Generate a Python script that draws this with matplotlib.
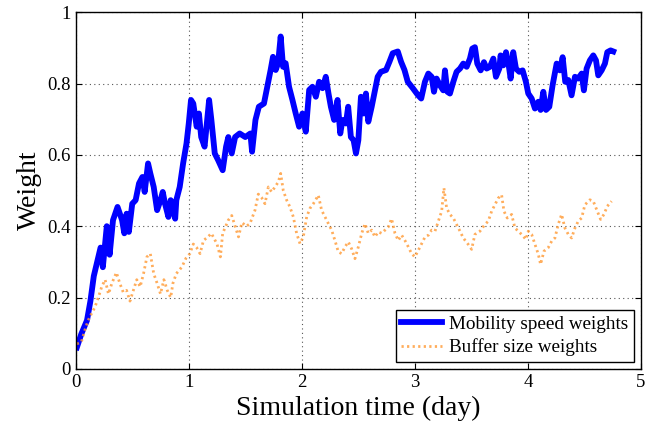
import matplotlib.pyplot as plt
import numpy as np

# Mobility speed weights (day, weight)
speed_t = [0.01, 0.05, 0.10, 0.13, 0.16, 0.19, 0.22, 0.24, 0.26, 0.275, 0.30, 0.33, 0.37, 0.41, 0.43,
           0.45, 0.47, 0.50, 0.53, 0.56, 0.59, 0.61, 0.64, 0.66, 0.69, 0.72, 0.75, 0.77, 0.79, 0.82,
           0.84, 0.88, 0.89, 0.92, 0.95, 0.98, 1.00, 1.02, 1.04, 1.07, 1.09, 1.11, 1.14, 1.16, 1.18,
           1.20, 1.23, 1.26, 1.30, 1.33, 1.35, 1.38, 1.41, 1.45, 1.50, 1.545, 1.56, 1.59, 1.62, 1.665,
           1.695, 1.724, 1.745, 1.769, 1.79, 1.813, 1.834, 1.857, 1.887, 1.917, 1.946, 1.976, 2.005,
           2.035, 2.065, 2.094, 2.124, 2.153, 2.183, 2.212, 2.236, 2.257, 2.286, 2.316, 2.34, 2.36,
           2.39, 2.41, 2.434, 2.458, 2.479, 2.50, 2.523, 2.547, 2.567, 2.588, 2.618, 2.641, 2.671,
           2.70, 2.745, 2.775, 2.804, 2.849, 2.878, 2.908, 2.937, 2.982, 3.026, 3.056, 3.089, 3.119,
           3.148, 3.169, 3.192, 3.222, 3.251, 3.266, 3.287, 3.31, 3.34, 3.369, 3.399, 3.428, 3.458,
           3.487, 3.508, 3.531, 3.552, 3.582, 3.611, 3.635, 3.664, 3.694, 3.717, 3.747, 3.758, 3.782,
           3.806, 3.826, 3.847, 3.87, 3.894, 3.923, 3.953, 3.982, 4.003, 4.033, 4.062, 4.092, 4.112,
           4.136, 4.16, 4.189, 4.218, 4.254, 4.283, 4.307, 4.33, 4.357, 4.386, 4.416, 4.445, 4.475,
           4.495, 4.519, 4.548, 4.578, 4.602, 4.622, 4.652, 4.681, 4.702, 4.731, 4.755]
speed_w = [0.06, 0.098, 0.136, 0.19, 0.26, 0.30, 0.34, 0.285, 0.35, 0.40, 0.32, 0.417, 0.454, 0.417, 0.38,
           0.435, 0.384, 0.463, 0.473, 0.52, 0.538, 0.496, 0.576, 0.548, 0.51, 0.445, 0.473, 0.496, 0.463, 0.426,
           0.473, 0.421, 0.473, 0.51, 0.576, 0.632, 0.688, 0.754, 0.744, 0.679, 0.716, 0.65, 0.623, 0.688, 0.754,
           0.698, 0.604, 0.585, 0.557, 0.623, 0.65, 0.604, 0.65, 0.66, 0.65, 0.66, 0.609, 0.698, 0.735, 0.744,
           0.791, 0.838, 0.875, 0.838, 0.857, 0.932, 0.847, 0.857, 0.791, 0.754, 0.716, 0.679, 0.716,
           0.665, 0.782, 0.791, 0.763, 0.805, 0.787, 0.819, 0.772, 0.735, 0.698, 0.754, 0.66, 0.698,
           0.688, 0.735, 0.65, 0.641, 0.604, 0.641, 0.763, 0.716, 0.772, 0.693, 0.735, 0.772, 0.819,
           0.833, 0.838, 0.861, 0.885, 0.89, 0.861, 0.838, 0.805, 0.787, 0.768, 0.758, 0.805, 0.828,
           0.819, 0.777, 0.814, 0.795, 0.781, 0.837, 0.777, 0.772, 0.805, 0.833, 0.842, 0.856, 0.847,
           0.87, 0.898, 0.902, 0.856, 0.837, 0.86, 0.842, 0.847, 0.87, 0.819, 0.842, 0.879, 0.851,
           0.888, 0.86, 0.814, 0.888, 0.842, 0.833, 0.837, 0.805, 0.772, 0.758, 0.73, 0.749, 0.726,
           0.777, 0.726, 0.735, 0.795, 0.856, 0.837, 0.874, 0.805, 0.81, 0.767, 0.819, 0.814, 0.828,
           0.781, 0.842, 0.865, 0.879, 0.865, 0.823, 0.837, 0.856, 0.888, 0.893, 0.89]

# Buffer size weights (day, weight)
buffer_t = [0.01, 0.05, 0.08, 0.11, 0.14, 0.17, 0.20, 0.23, 0.26, 0.29, 0.32, 0.36, 0.39, 0.42, 0.45,
            0.48, 0.51, 0.54, 0.57, 0.60, 0.63, 0.66, 0.69, 0.72, 0.75, 0.78, 0.81, 0.84, 0.86, 0.89,
            0.94, 0.975, 1.01, 1.04, 1.07, 1.10, 1.13, 1.17, 1.20, 1.25, 1.28, 1.30, 1.35, 1.38, 1.41,
            1.44, 1.47, 1.51, 1.541, 1.586, 1.615, 1.645, 1.674, 1.704, 1.733, 1.763, 1.792, 1.813,
            1.836, 1.866, 1.895, 1.925, 1.954, 1.984, 2.013, 2.043, 2.072, 2.102, 2.146, 2.175, 2.205,
            2.234, 2.264, 2.293, 2.323, 2.352, 2.382, 2.411, 2.44, 2.47, 2.50, 2.53, 2.559, 2.588,
            2.618, 2.647, 2.676, 2.706, 2.735, 2.765, 2.794, 2.824, 2.853, 2.883, 2.912, 2.942, 2.971,
            3.00, 3.03, 3.06, 3.09, 3.12, 3.148, 3.178, 3.207, 3.237, 3.257, 3.281, 3.31, 3.34, 3.369,
            3.399, 3.428, 3.472, 3.502, 3.531, 3.576, 3.62, 3.649, 3.679, 3.708, 3.738, 3.767, 3.788,
            3.817, 3.856, 3.885, 3.915, 3.944, 3.982, 4.003, 4.033, 4.062, 4.092, 4.112, 4.142, 4.18,
            4.21, 4.239, 4.268, 4.298, 4.327, 4.357, 4.386, 4.416, 4.445, 4.475, 4.504, 4.548, 4.578,
            4.607, 4.643, 4.672, 4.702, 4.74]
buffer_w = [0.07, 0.075, 0.108, 0.136, 0.155, 0.173, 0.20, 0.23, 0.25, 0.21, 0.24, 0.27, 0.24, 0.215, 0.22,
            0.19, 0.22, 0.25, 0.23, 0.267, 0.314, 0.323, 0.267, 0.24, 0.21, 0.25, 0.22, 0.20, 0.24, 0.267,
            0.286, 0.31, 0.323, 0.35, 0.34, 0.323, 0.36, 0.37, 0.38, 0.35, 0.314, 0.38, 0.417, 0.43, 0.40,
            0.37, 0.41, 0.40, 0.407, 0.445, 0.49, 0.48, 0.463, 0.51, 0.496, 0.51, 0.524, 0.548,
            0.50, 0.473, 0.454, 0.426, 0.38, 0.351, 0.37, 0.426, 0.45, 0.463, 0.487, 0.445, 0.426,
            0.407, 0.389, 0.36, 0.328, 0.323, 0.342, 0.356, 0.337, 0.309, 0.342, 0.38, 0.407, 0.38,
            0.389, 0.37, 0.384, 0.38, 0.389, 0.398, 0.421, 0.38, 0.36, 0.375, 0.36, 0.342, 0.323,
            0.314, 0.332, 0.351, 0.37, 0.375, 0.389, 0.386, 0.414, 0.442, 0.507, 0.451, 0.433, 0.423, 0.405,
            0.386, 0.367, 0.349, 0.335, 0.377, 0.386, 0.405, 0.414, 0.442, 0.46, 0.479, 0.488, 0.442,
            0.423, 0.433, 0.395, 0.386, 0.377, 0.363, 0.386, 0.377, 0.349, 0.321, 0.293, 0.33, 0.34,
            0.358, 0.367, 0.405, 0.433, 0.395, 0.377, 0.367, 0.395, 0.414, 0.423, 0.46, 0.474, 0.47,
            0.447, 0.419, 0.433, 0.456, 0.47]

plt.rcParams['font.family'] = ['Liberation Serif', 'DejaVu Serif']

fig = plt.figure(figsize=(6.67, 4.22), dpi=100)
ax = fig.add_axes([0.1135, 0.126, 0.8475, 0.845])

ax.plot(speed_t, speed_w, color='#0000ff', lw=4.2, label='Mobility speed weights')
ax.plot(buffer_t, buffer_w, color='#ff9933', lw=2.0, ls=(0, (0.8, 1.2)), alpha=0.8,
        label='Buffer size weights')

ax.set_xlim(0, 5)
ax.set_ylim(0, 1)
ax.set_xticks([0, 1, 2, 3, 4, 5])
ax.set_yticks([0, 0.2, 0.4, 0.6, 0.8, 1])
ax.set_yticklabels(['0', '0.2', '0.4', '0.6', '0.8', '1'])
ax.tick_params(direction='in', top=True, right=True, labelsize=13.5, length=4, width=0.8, pad=3.5)
ax.grid(True, ls=(0, (1, 3)), color='#555555', lw=0.8)
for s in ax.spines.values():
    s.set_linewidth(1.0)

ax.set_xlabel('Simulation time (day)', fontsize=20, labelpad=4)
ax.set_ylabel('Weight', fontsize=20, labelpad=4)

leg = ax.legend(loc='lower right', fontsize=13.8, fancybox=False, framealpha=1,
                edgecolor='black', borderpad=0.3, labelspacing=0.3, handlelength=2.1,
                handletextpad=0.4, borderaxespad=0.35)
leg.get_frame().set_linewidth(1.0)

fig.savefig('out.png', dpi=100)
